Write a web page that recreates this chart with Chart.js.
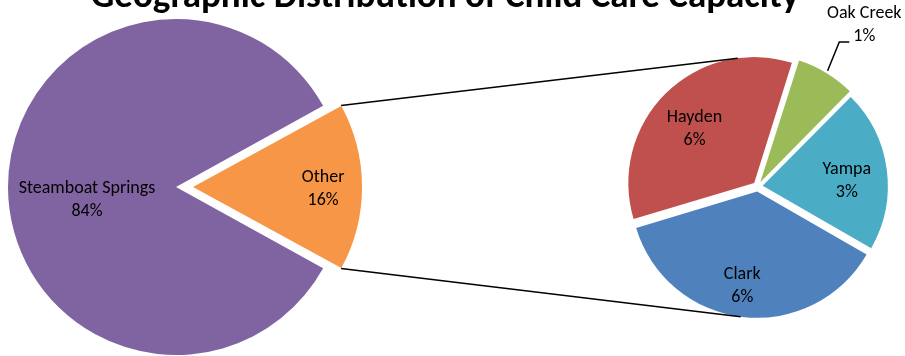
<!DOCTYPE html>
<html lang="en">

<head>
    <meta charset="UTF-8">
    <meta name="viewport" content="width=device-width, initial-scale=1.0">
    <title>child care capacity</title>
    <script src="https://cdn.jsdelivr.net/npm/chart.js"></script>
    <style>
        body { margin: 0; background: #fff; }
        #wrap { position: relative; width: 905px; height: 356px; overflow: hidden; }
        #wrap canvas { position: absolute; left: 0; top: 0; }
    </style>
</head>

<body>
    <div id="wrap">
        <canvas id="mainPie" width="905" height="356"></canvas>
        <canvas id="subPie" width="905" height="356"></canvas>
    </div>
    <script>
        // data
        const chartTitle = 'Geographic Distribution of Child Care Capacity';
        const mainLabels = ['Steamboat Springs', 'Other'];
        const subLabels = ['Oak Creek', 'Yampa', 'Clark', 'Hayden'];
        const subValues = [1.21, 3.34, 5.93, 5.52];
        const steamboatValue = 84;
        const otherValue = subValues.reduce((a, b) => a + b, 0);
        const mainValues = [steamboatValue, otherValue];
        const grandTotal = mainValues.reduce((a, b) => a + b, 0);

        const mainColors = ['#8064A2', '#F79646'];
        const subColors = ['#9BBB59', '#4BACC6', '#4F81BD', '#C0504D'];

        const FONT = 'Carlito, Lato, "Liberation Sans", sans-serif';

        // how far each slice is pulled out (px); chart.js moves an arc offset/4 along its bisector
        const mainPull = [1.4, 15.6];
        const subPull = [5, 5, 5, 5];

        // label placement: fraction of radius along the bisector, plus a small nudge
        const mainLabelPlace = [{ dist: 0.53, dx: 0, dy: 13 }, { dist: 0.77, dx: 0, dy: 2 }];
        const subLabelPlace = [
            { dist: 1.47, dx: 7, dy: 4, outside: true },
            { dist: 0.67, dx: 1, dy: 6 },
            { dist: 0.75, dx: -4, dy: 0 },
            { dist: 0.63, dx: -4, dy: 3 }
        ];

        function pct(v) {
            return Math.round(v / grandTotal * 100) + '%';
        }

        // centre / radius of an arc after chart.js applies its offset
        function arcGeom(arc) {
            const p = arc.getProps(['x', 'y', 'startAngle', 'endAngle', 'outerRadius', 'circumference'], true);
            const t = (arc.options.offset || 0) / 4;
            const mid = (p.startAngle + p.endAngle) / 2;
            const fix = 1 - Math.sin(Math.min(Math.PI, p.circumference));
            return {
                cx: p.x + Math.cos(mid) * t,
                cy: p.y + Math.sin(mid) * t,
                r: p.outerRadius + t * fix,
                mid: mid,
                start: p.startAngle,
                end: p.endAngle
            };
        }

        const sliceLabels = {
            id: 'sliceLabels',
            afterDatasetsDraw(chart, args, opts) {
                const ctx = chart.ctx;
                const meta = chart.getDatasetMeta(0);
                const values = chart.data.datasets[0].data;
                ctx.save();
                ctx.font = '18px ' + FONT;
                ctx.fillStyle = '#000';
                ctx.strokeStyle = '#000';
                ctx.textAlign = 'center';
                ctx.textBaseline = 'middle';
                meta.data.forEach((arc, i) => {
                    const g = arcGeom(arc);
                    const pl = opts.place[i];
                    const x = g.cx + Math.cos(g.mid) * g.r * pl.dist + pl.dx;
                    const y = g.cy + Math.sin(g.mid) * g.r * pl.dist + pl.dy;
                    ctx.fillText(chart.data.labels[i], x, y - 11.5);
                    ctx.fillText(pct(values[i]), x, y + 11.5);
                    if (pl.outside) {
                        // leader line from the slice to the label
                        ctx.lineWidth = 1.5;
                        ctx.beginPath();
                        ctx.moveTo(g.cx + Math.cos(g.mid) * g.r * 1.02, g.cy + Math.sin(g.mid) * g.r * 1.02);
                        ctx.lineTo(x - 25, y + 16.5);
                        ctx.lineTo(x - 15, y + 16.5);
                        ctx.stroke();
                    }
                });
                ctx.restore();
            }
        };

        const titlePlugin = {
            id: 'titleText',
            afterDraw(chart) {
                const ctx = chart.ctx;
                ctx.save();
                ctx.font = 'bold 37px ' + FONT;
                ctx.fillStyle = '#000';
                ctx.textAlign = 'center';
                ctx.textBaseline = 'alphabetic';
                ctx.fillText(chartTitle, 445, 7);
                ctx.restore();
            }
        };

        // lines joining the "Other" slice to the second pie
        const connectors = {
            id: 'connectors',
            afterDraw(chart) {
                const other = arcGeom(mainChart.getDatasetMeta(0).data[1]);
                const meta = chart.getDatasetMeta(0);
                const top = arcGeom(meta.data[3]);
                const bottom = arcGeom(meta.data[2]);
                const a = 97.5 * Math.PI / 180;
                const ctx = chart.ctx;
                ctx.save();
                ctx.strokeStyle = '#000';
                ctx.lineWidth = 1.5;
                ctx.beginPath();
                ctx.moveTo(other.cx + Math.cos(other.start) * other.r, other.cy + Math.sin(other.start) * other.r);
                ctx.lineTo(top.cx + Math.cos(-a) * top.r, top.cy + Math.sin(-a) * top.r);
                ctx.moveTo(other.cx + Math.cos(other.end) * other.r, other.cy + Math.sin(other.end) * other.r);
                ctx.lineTo(bottom.cx + Math.cos(a) * bottom.r, bottom.cy + Math.sin(a) * bottom.r);
                ctx.stroke();
                ctx.restore();
            }
        };

        const commonPlugins = {
            legend: { display: false },
            tooltip: { enabled: false },
            title: { display: false }
        };

        // "Other" is centred on the right-hand side
        const mainRotation = 90 - 360 * (mainValues[0] + mainValues[1] / 2) / grandTotal;

        const mainChart = new Chart(document.getElementById('mainPie'), {
            type: 'pie',
            data: {
                labels: mainLabels,
                datasets: [{
                    data: mainValues,
                    backgroundColor: mainColors,
                    borderWidth: 0,
                    offset: mainPull.map(p => p * 4),
                    radius: 166.6
                }]
            },
            options: {
                responsive: false,
                animation: false,
                events: [],
                rotation: mainRotation,
                layout: { padding: { left: 0, right: 905 - 2 * 177.4, top: 18, bottom: 0 } },
                plugins: Object.assign({ sliceLabels: { place: mainLabelPlace } }, commonPlugins)
            },
            plugins: [sliceLabels, titlePlugin]
        });

        const subChart = new Chart(document.getElementById('subPie'), {
            type: 'pie',
            data: {
                labels: subLabels,
                datasets: [{
                    data: subValues,
                    backgroundColor: subColors,
                    borderWidth: 0,
                    offset: subPull.map(p => p * 4),
                    radius: 125
                }]
            },
            options: {
                responsive: false,
                animation: false,
                events: [],
                rotation: 17.5,
                layout: { padding: { left: 2 * 757.7 - 905, right: 0, top: 17, bottom: 0 } },
                plugins: Object.assign({ sliceLabels: { place: subLabelPlace } }, commonPlugins)
            },
            plugins: [sliceLabels, connectors]
        });
    </script>
</body>

</html>
